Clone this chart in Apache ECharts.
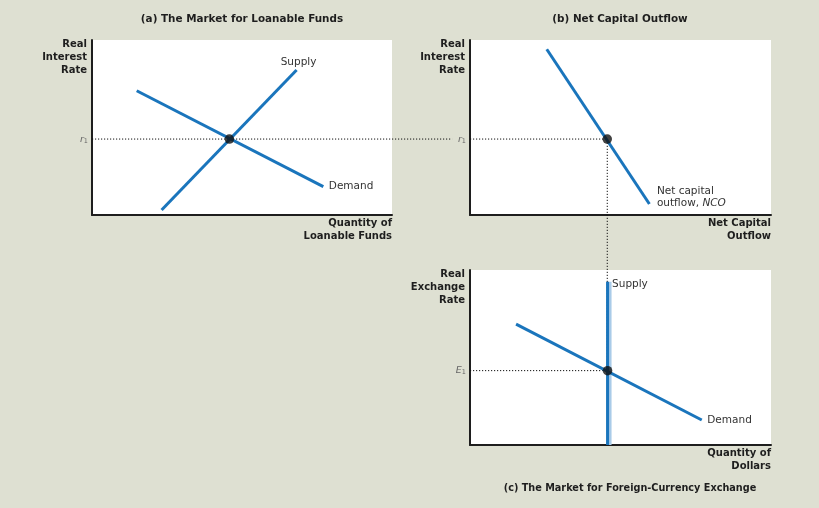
<!DOCTYPE html>
<html>
<head>
<meta charset="utf-8">
<script src="https://cdn.jsdelivr.net/npm/echarts@6/dist/echarts.min.js"></script>
<style>
html,body{margin:0;padding:0;background:#dee0d2;}
#c{width:819px;height:508px;}
</style>
</head>
<body>
<div id="c"></div>
<script>
// ---- data (abstract units, 0-100 on each axis) ----
var loanSupply = [[23.2, 2.9], [68.2, 82.9]];
var loanDemand = [[14.9, 71.0], [77.1, 16.2]];
var loanEq = [45.8, 43.4];

var ncoLine = [[25.5, 94.7], [59.6, 6.3]];
var ncoEq = [45.6, 43.4];

var fxSupply = [[45.7, 0], [45.7, 93.3]];
var fxDemand = [[15.3, 69.1], [77.0, 14.3]];
var fxEq = [45.7, 42.5];

var titles = ['(a) The Market for Loanable Funds', '(b) Net Capital Outflow', '(c) The Market for Foreign-Currency Exchange'];
var yNames = ['Real\nInterest\nRate', 'Real\nInterest\nRate', 'Real\nExchange\nRate'];
var xNames = ['Quantity of\nLoanable Funds', 'Net Capital\nOutflow', 'Quantity of\nDollars'];
var curveNames = ['Supply', 'Demand', 'Net capital\noutflow, {i|NCO}', 'Supply', 'Demand'];
var eqLabels = ['r', 'r', 'E'];

// the r1 guide crosses the gap between panels (a) and (b): share of the gap it covers
var gapGuideEnd = 77;
var guideBDownY = -88.6;   // NCO drop line runs down to panel (c)

var BLUE = '#1a75bc';
var INK = '#1e1e1e';

var chart = echarts.init(document.getElementById('c'), null, {renderer: 'canvas'});

function yAxisFor(gi, eqY, letter) {
  return {
    type: 'value', gridIndex: gi, min: 0, max: 100,
    name: yNames[gi], nameLocation: 'end', nameGap: 2,
    nameTextStyle: {
      fontFamily: 'DejaVu Sans', fontWeight: 'bold', fontSize: 10, color: INK,
      align: 'right', verticalAlign: 'top', lineHeight: 12.8, padding: [0, 5, 0, 0]
    },
    axisLine: {show: true, lineStyle: {color: INK, width: 2}},
    axisTick: {show: false},
    splitLine: {show: false},
    axisLabel: {
      show: true, customValues: [eqY], margin: 4,
      formatter: function () { return '{i|' + letter + '}{s|1}'; },
      rich: {
        i: {fontFamily: 'DejaVu Sans', fontStyle: 'italic', fontSize: 9.5, color: '#666'},
        s: {fontFamily: 'DejaVu Sans', fontSize: 6.5, color: '#666', verticalAlign: 'bottom', padding: [4, 0, 0, 0]}
      }
    }
  };
}
function xAxisFor(gi) {
  return {
    type: 'value', gridIndex: gi, min: 0, max: 100,
    name: xNames[gi], nameLocation: 'end', nameGap: 0,
    nameTextStyle: {
      fontFamily: 'DejaVu Sans', fontWeight: 'bold', fontSize: 10, color: INK,
      align: 'right', verticalAlign: 'top', lineHeight: 13, padding: [2, 0, 0, 0]
    },
    axisLine: {show: true, lineStyle: {color: INK, width: 2}},
    axisTick: {show: false},
    splitLine: {show: false},
    axisLabel: {show: false}
  };
}
function hiddenAxis(gi) {
  return {type: 'value', gridIndex: gi, min: 0, max: 100, show: false};
}

var curveStyle = {color: BLUE, width: 3};
var dotStyle = {color: '#111', type: [1.2, 1.8], width: 1};
var labelStyle = {fontFamily: 'DejaVu Sans', fontSize: 10.5, color: '#333'};

function curve(gi, pts, labelName, labelOpt, extra) {
  var data = pts.map(function (p, i) {
    if (i === pts.length - 1 && labelName) {
      return {value: p, label: Object.assign({show: true, formatter: labelName}, labelStyle, labelOpt)};
    }
    return {value: p};
  });
  return Object.assign({
    type: 'line', xAxisIndex: gi, yAxisIndex: gi, data: data,
    showSymbol: true, symbol: 'circle', symbolSize: 1,
    itemStyle: {color: 'rgba(0,0,0,0)'},
    lineStyle: curveStyle, z: 3, silent: true,
    label: {show: false}
  }, extra || {});
}
function guide(gi, pts) {
  return {
    type: 'line', xAxisIndex: gi, yAxisIndex: gi, data: pts, symbol: 'none',
    lineStyle: dotStyle, clip: false, z: 2, silent: true
  };
}
function eqDot(gi, p) {
  return {
    type: 'scatter', xAxisIndex: gi, yAxisIndex: gi, data: [p],
    symbol: 'circle', symbolSize: 9.5, itemStyle: {color: '#111'}, z: 5, silent: true
  };
}

var titleStyleAB = {fontFamily: 'DejaVu Sans', fontWeight: 'bold', fontSize: 10.4, color: INK};
var titleStyleC = {fontFamily: 'DejaVu Sans', fontWeight: 'bold', fontSize: 9.7, color: INK};

var option = {
  backgroundColor: '#dee0d2',
  animation: false,
  title: [
    {text: titles[0], left: 242, top: 14, textAlign: 'center', textStyle: titleStyleAB, padding: 0},
    {text: titles[1], left: 620, top: 14, textAlign: 'center', textStyle: titleStyleAB, padding: 0},
    {text: titles[2], left: 630, top: 483, textAlign: 'center', textStyle: titleStyleC, padding: 0}
  ],
  grid: [
    {left: 92, top: 40, width: 300, height: 175, show: true, backgroundColor: '#ffffff', borderWidth: 0},
    {left: 470, top: 40, width: 301, height: 175, show: true, backgroundColor: '#ffffff', borderWidth: 0},
    {left: 470, top: 270, width: 301, height: 175, show: true, backgroundColor: '#ffffff', borderWidth: 0},
    // gap between (a) and (b), same vertical scale as (a)
    {left: 392, top: 40, width: 78, height: 175, show: false}
  ],
  xAxis: [xAxisFor(0), xAxisFor(1), xAxisFor(2), hiddenAxis(3)],
  yAxis: [yAxisFor(0, loanEq[1], eqLabels[0]), yAxisFor(1, ncoEq[1], eqLabels[1]), yAxisFor(2, fxEq[1], eqLabels[2]), hiddenAxis(3)],
  series: [
    // panel (a)
    guide(0, [[0, loanEq[1]], [100, loanEq[1]]]),
    guide(3, [[0, loanEq[1]], [gapGuideEnd, loanEq[1]]]),
    curve(0, loanSupply, curveNames[0], {position: 'top', distance: 2, offset: [2, 0]}),
    curve(0, loanDemand, curveNames[1], {position: 'right', distance: 5}),
    eqDot(0, loanEq),
    // panel (b)
    guide(1, [[0, ncoEq[1]], [ncoEq[0], ncoEq[1]], [ncoEq[0], guideBDownY]]),
    curve(1, ncoLine, curveNames[2], {position: 'right', distance: 7, offset: [0, -7], lineHeight: 12,
      rich: {i: {fontFamily: 'DejaVu Sans', fontStyle: 'italic', fontSize: 10.5, color: '#333'}}}),
    eqDot(1, ncoEq),
    // panel (c)
    guide(2, [[0, fxEq[1]], [fxEq[0], fxEq[1]]]),
    curve(2, fxSupply, curveNames[3], {position: 'right', distance: 4, offset: [0, 3]},
      {lineStyle: {color: BLUE, width: 3, shadowColor: '#a9cbe8', shadowBlur: 0, shadowOffsetX: 2.5}}),
    curve(2, fxDemand, curveNames[4], {position: 'right', distance: 5}),
    eqDot(2, fxEq)
  ]
};
chart.setOption(option);
</script>
</body>
</html>
